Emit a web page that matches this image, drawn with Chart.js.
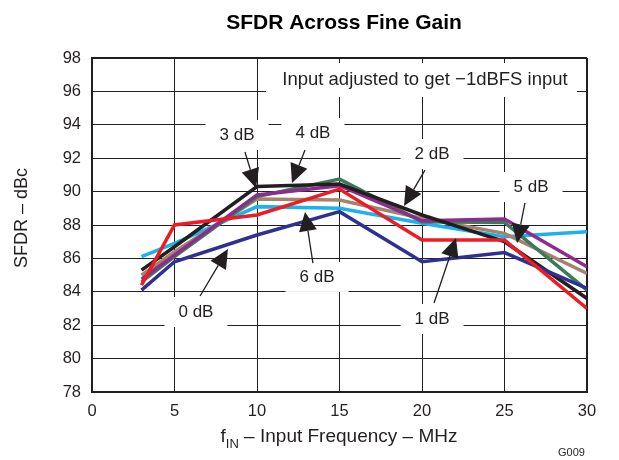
<!DOCTYPE html>
<html lang="en">
<head>
  <meta charset="UTF-8" />
  <title>SFDR Across Fine Gain</title>
  <script src="https://cdn.jsdelivr.net/npm/chart.js"></script>
  <style>
    body { margin: 0; background: #fff; }
    #wrap { width: 619px; height: 460px; position: relative; }
  </style>
</head>
<body>
  <div id="wrap"><canvas id="sfdr-chart"></canvas></div>

  <script>
    // Input frequency (MHz) and SFDR (dBc) per fine gain setting
    const freqMHz = [3, 5, 10, 15, 20, 25, 30];
    const gain0dB = [84.1, 85.8, 87.4, 88.8, 85.8, 86.35, 84.2];
    const gain1dB = [84.4, 88.0, 88.6, 90.15, 87.1, 87.1, 83.0];
    const gain2dB = [85.3, 86.7, 90.3, 90.45, 88.6, 87.0, 83.6];
    const gain3dB = [84.76, 86.2, 89.8, 90.35, 88.25, 88.36, 85.5];
    const gain4dB = [84.6, 86.1, 89.7, 90.75, 88.2, 88.15, 84.1];
    const gain5dB = [85.0, 86.4, 89.55, 89.5, 88.4, 87.5, 85.1];
    const gain6dB = [86.1, 86.9, 89.1, 89.0, 88.1, 87.3, 87.6];

    const xTicks = [0, 5, 10, 15, 20, 25, 30];
    const yTicks = [78, 80, 82, 84, 86, 88, 90, 92, 94, 96, 98];

    // callout labels: text, label centre, arrow tail, arrow tip (data units)
    const calloutText = ["3 dB", "4 dB", "2 dB", "5 dB", "6 dB", "0 dB", "1 dB"];
    const calloutPos = [[8.79, 93.39], [13.39, 93.51], [20.61, 92.25], [26.61, 90.28], [13.64, 84.89], [6.30, 82.79], [20.61, 82.37]];
    const arrowFrom = [[9.27, 92.37], [12.91, 92.49], [20.18, 91.29], [26.24, 89.32], [13.39, 85.72], [6.55, 83.75], [20.73, 83.33]];
    const arrowTo = [[9.94, 90.22], [12.12, 90.51], [18.91, 89.14], [25.76, 86.92], [12.91, 88.78], [8.24, 86.56], [22.06, 87.22]];

    const FONT = '"Liberation Sans", Arial, sans-serif';
    const INK = "#231f20";

    function series(label, values, color, order) {
      return {
        label,
        data: freqMHz.map((f, i) => ({ x: f, y: values[i] })),
        borderColor: color,
        backgroundColor: color,
        borderWidth: 3.5,
        pointRadius: 0,
        tension: 0,
        fill: false,
        order
      };
    }

    const overlay = {
      id: "overlay",
      beforeDatasetsDraw(chart) {
        const { ctx } = chart;
        const xs = chart.scales.x, ys = chart.scales.y;
        ctx.save();
        ctx.fillStyle = "#fff";
        // note box at top right
        ctx.fillRect(266, 63, 311, 34);
        ctx.font = "17px " + FONT;
        calloutText.forEach((t, i) => {
          const cx = xs.getPixelForValue(calloutPos[i][0]);
          const cy = ys.getPixelForValue(calloutPos[i][1]);
          const w = ctx.measureText(t).width + 28;
          ctx.fillRect(cx - w / 2, cy - 15, w, 30);
        });
        ctx.restore();
      },
      afterDatasetsDraw(chart) {
        const { ctx } = chart;
        const xs = chart.scales.x, ys = chart.scales.y;
        ctx.save();
        ctx.fillStyle = INK;
        ctx.strokeStyle = INK;
        ctx.textAlign = "center";
        ctx.textBaseline = "middle";
        ctx.font = "18.5px " + FONT;
        ctx.fillText("Input adjusted to get \u22121dBFS input", 425, 80);
        ctx.font = "17px " + FONT;
        calloutText.forEach((t, i) => {
          const cx = xs.getPixelForValue(calloutPos[i][0]);
          const cy = ys.getPixelForValue(calloutPos[i][1]);
          ctx.fillText(t, cx, cy);
          const x0 = xs.getPixelForValue(arrowFrom[i][0]);
          const y0 = ys.getPixelForValue(arrowFrom[i][1]);
          const x1 = xs.getPixelForValue(arrowTo[i][0]);
          const y1 = ys.getPixelForValue(arrowTo[i][1]);
          const a = Math.atan2(y1 - y0, x1 - x0);
          const len = 19, half = 9;
          const bx = x1 - len * Math.cos(a), by = y1 - len * Math.sin(a);
          ctx.lineWidth = 1.3;
          ctx.beginPath();
          ctx.moveTo(x0, y0);
          ctx.lineTo(bx, by);
          ctx.stroke();
          ctx.beginPath();
          ctx.moveTo(x1, y1);
          ctx.lineTo(bx + half * Math.sin(a), by - half * Math.cos(a));
          ctx.lineTo(bx - half * Math.sin(a), by + half * Math.cos(a));
          ctx.closePath();
          ctx.fill();
        });
        ctx.restore();
      },
      afterDraw(chart) {
        const { ctx } = chart;
        ctx.save();
        ctx.fillStyle = "#000";
        ctx.textAlign = "center";
        ctx.textBaseline = "middle";
        ctx.font = "bold 21px " + FONT;
        ctx.fillText("SFDR Across Fine Gain", 344, 23);

        ctx.fillStyle = INK;
        ctx.font = "18px " + FONT;
        ctx.save();
        ctx.translate(22, 218);
        ctx.rotate(-Math.PI / 2);
        ctx.fillText("SFDR \u2013 dBc", 0, 0);
        ctx.restore();

        // x title with subscript
        const main = " \u2013 Input Frequency \u2013 MHz";
        ctx.font = "19px " + FONT;
        const wf = ctx.measureText("f").width;
        const wm = ctx.measureText(main).width;
        ctx.font = "13px " + FONT;
        const ws = ctx.measureText("IN").width;
        let x = 339 - (wf + ws + wm) / 2;
        ctx.textAlign = "left";
        ctx.font = "19px " + FONT;
        ctx.fillText("f", x, 437);
        x += wf;
        ctx.font = "13px " + FONT;
        ctx.fillText("IN", x, 444);
        x += ws;
        ctx.font = "19px " + FONT;
        ctx.fillText(main, x, 437);

        ctx.font = "11px " + FONT;
        ctx.fillText("G009", 558, 453);
        ctx.restore();
      }
    };

    new Chart(document.getElementById("sfdr-chart"), {
      type: "line",
      data: {
        datasets: [
          series("6 dB", gain6dB, "#1cb3ec", 7),
          series("5 dB", gain5dB, "#a3836b", 6),
          series("4 dB", gain4dB, "#3d7a58", 5),
          series("3 dB", gain3dB, "#8e2b8f", 4),
          series("2 dB", gain2dB, "#231f20", 3),
          series("0 dB", gain0dB, "#2e3192", 2),
          series("1 dB", gain1dB, "#ed1c24", 1)
        ]
      },
      options: {
        responsive: true,
        maintainAspectRatio: false,
        animation: false,
        layout: { padding: { top: 58, right: 32, left: 0, bottom: 0 } },
        plugins: { legend: { display: false }, tooltip: { enabled: false }, title: { display: false } },
        scales: {
          x: {
            type: "linear",
            min: 0,
            max: 30,
            afterBuildTicks: s => { s.ticks = xTicks.map(v => ({ value: v })); },
            afterFit: s => { s.height = 68; },
            ticks: { color: INK, font: { family: FONT, size: 16.5 }, padding: 10, maxRotation: 0 },
            grid: { color: INK, lineWidth: c => (c.tick && c.tick.value === 30 ? 2 : 1), drawTicks: false },
            border: { color: INK, width: 2 }
          },
          y: {
            min: 78,
            max: 98,
            afterBuildTicks: s => { s.ticks = yTicks.map(v => ({ value: v })); },
            afterFit: s => { s.width = 92; },
            ticks: { color: INK, font: { family: FONT, size: 16.5 }, padding: 11 },
            grid: { color: INK, lineWidth: c => (c.tick && c.tick.value === 98 ? 2 : 1), drawTicks: false },
            border: { color: INK, width: 2 }
          }
        }
      },
      plugins: [overlay]
    });
  </script>
</body>
</html>
